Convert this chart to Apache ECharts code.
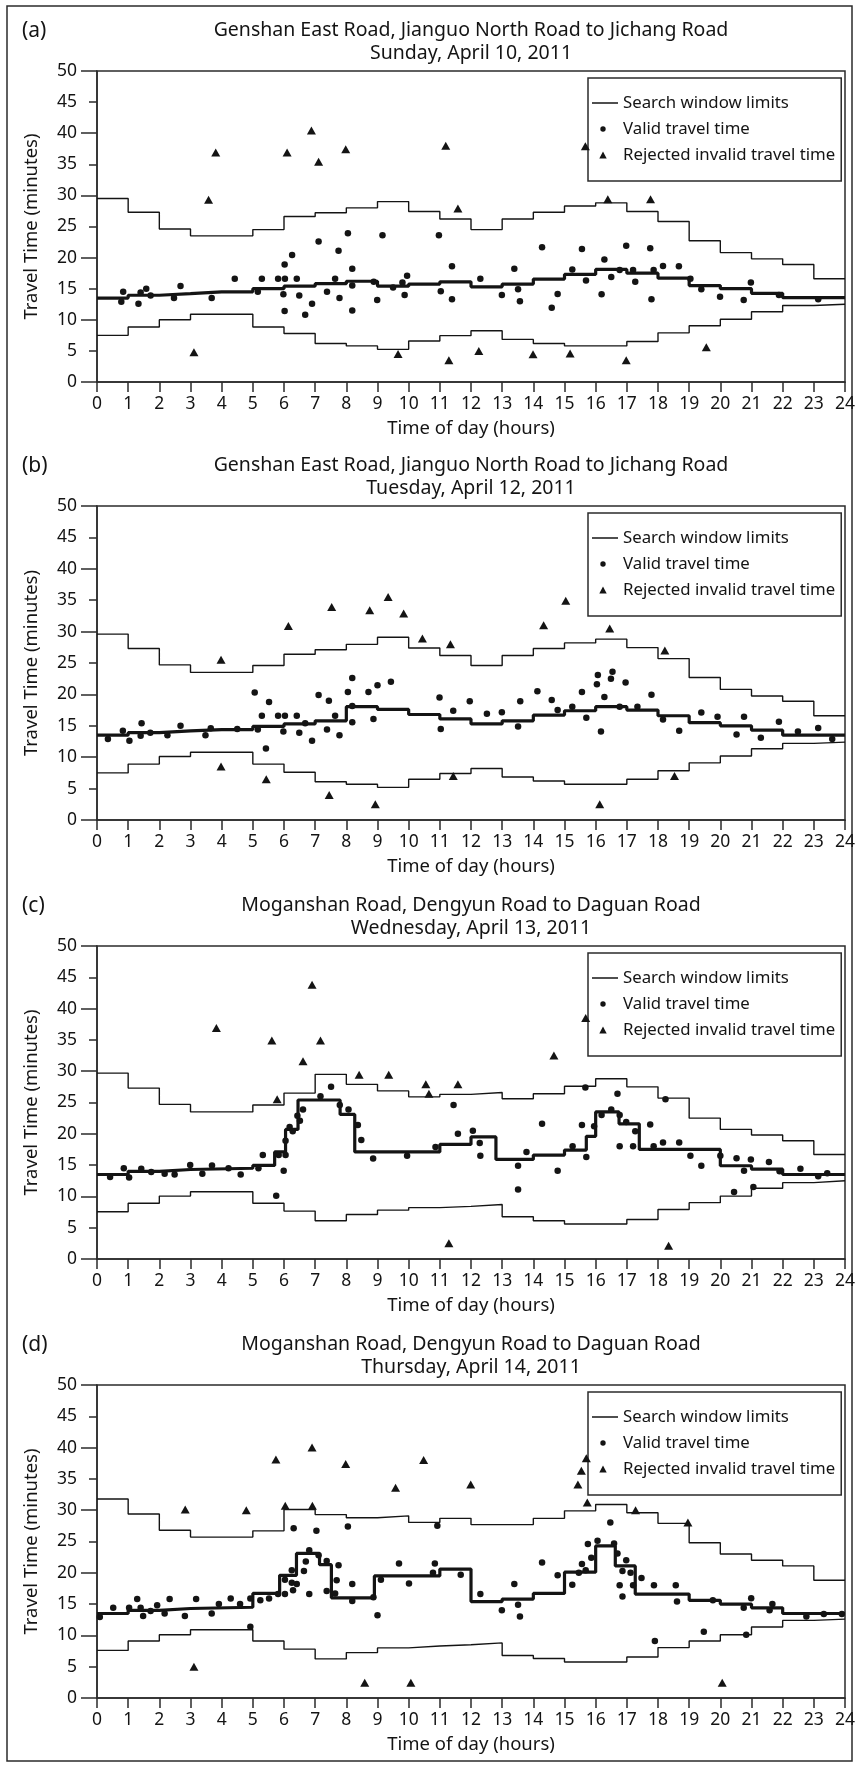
<!DOCTYPE html>
<html><head><meta charset="utf-8">
<script src="https://cdn.jsdelivr.net/npm/echarts@6/dist/echarts.min.js"></script>
<style>html,body{margin:0;padding:0;background:#fff}#c{width:859px;height:1765px}</style>
</head><body><div id="c"></div>
<script>
// ---------------- DATA ----------------
const panelLabels = ['(a)', '(b)', '(c)', '(d)'];
const titleLine1 = [
  'Genshan East Road, Jianguo North Road to Jichang Road',
  'Genshan East Road, Jianguo North Road to Jichang Road',
  'Moganshan Road, Dengyun Road to Daguan Road',
  'Moganshan Road, Dengyun Road to Daguan Road'
];
const titleLine2 = ['Sunday, April 10, 2011', 'Tuesday, April 12, 2011', 'Wednesday, April 13, 2011', 'Thursday, April 14, 2011'];
const xTickLabels = ['0','1','2','3','4','5','6','7','8','9','10','11','12','13','14','15','16','17','18','19','20','21','22','23','24'];
const yTickLabels = ['0','5','10','15','20','25','30','35','40','45','50'];
const xAxisName = 'Time of day (hours)';
const yAxisName = 'Travel Time (minutes)';
const legendNames = ['Search window limits', 'Valid travel time', 'Rejected invalid travel time'];

const windowHours = [0,1,2,3,4,5,6,7,8,9,10,11,12,13,14,15,16,17,18,19,20,21,22,23,24];

// Panel (a)
const upperA = [29.5,27.3,24.6,23.5,23.5,24.5,26.6,27.2,28.0,29.0,27.4,26.2,24.5,26.2,27.3,28.3,28.8,27.4,25.8,22.7,20.8,19.8,18.9,16.6];
const lowerA = [7.5,8.85,10.0,10.9,10.9,8.85,7.8,6.2,5.8,5.25,6.6,7.45,8.25,6.85,6.2,5.8,5.8,6.5,7.9,9.05,10.1,11.3,12.3,12.5];
const medianBreaksA = windowHours;
const medianA = [13.5,13.95,14.2,14.5,14.5,15.0,15.4,15.8,16.2,15.4,15.75,16.1,15.3,15.75,16.55,17.3,18.1,17.5,16.7,15.5,15.0,14.25,13.55,13.55];
const validA = [[0.78,12.9],[0.84,14.5],[1.33,12.6],[1.40,14.4],[1.58,15.0],[1.72,13.9],[2.47,13.5],[2.68,15.45],[3.68,13.5],[4.42,16.6],[5.16,14.5],[5.29,16.6],[5.81,16.6],[5.98,14.1],[6.02,18.9],[6.03,16.6],[6.02,11.4],[6.26,20.4],[6.41,16.6],[6.49,13.9],[6.68,10.8],[6.90,12.6],[7.11,22.6],[7.38,14.5],[7.64,16.6],[7.75,21.1],[7.78,13.5],[8.05,23.9],[8.19,18.2],[8.19,15.5],[8.19,11.5],[9.16,23.6],[8.88,16.1],[8.99,13.2],[9.50,15.2],[9.80,16.0],[9.95,17.1],[9.87,14.0],[10.97,23.6],[11.03,14.6],[11.39,18.6],[11.39,13.3],[12.30,16.6],[12.99,14.0],[13.39,18.2],[13.51,14.9],[13.57,13.0],[14.28,21.65],[14.59,11.95],[14.78,14.15],[15.25,18.1],[15.56,21.4],[15.69,16.3],[16.19,14.1],[16.28,19.7],[16.50,16.9],[16.77,18.0],[16.98,21.9],[17.20,18.0],[17.27,16.1],[17.75,21.5],[17.79,13.3],[17.86,18.0],[18.16,18.65],[18.67,18.6],[19.04,16.6],[19.39,14.9],[19.99,13.7],[20.75,13.2],[20.98,16.0],[21.88,14.0],[23.14,13.3]];
const rejectedA = [[3.11,4.8],[3.58,29.3],[3.81,36.9],[6.10,36.9],[6.88,40.45],[7.11,35.4],[7.98,37.4],[9.66,4.5],[11.19,38.0],[11.29,3.5],[11.58,27.9],[12.25,5.0],[13.99,4.45],[15.18,4.6],[15.67,37.9],[16.39,29.4],[16.98,3.5],[17.76,29.4],[19.55,5.6]];

// Panel (b)
const upperB = [29.6,27.3,24.7,23.5,23.5,24.6,26.4,27.1,27.97,29.1,27.4,26.2,24.6,26.2,27.3,28.2,28.8,27.45,25.7,22.7,20.8,19.75,18.9,16.6];
const lowerB = [7.5,8.9,10.1,10.8,10.8,8.9,7.6,6.1,5.7,5.2,6.5,7.4,8.2,6.85,6.2,5.7,5.7,6.5,7.85,9.1,10.2,11.35,12.2,12.4];
const medianBreaksB = windowHours;
const medianB = [13.5,13.9,14.2,14.4,14.4,14.9,15.3,15.8,18.05,17.6,16.8,16.1,15.3,15.8,16.7,17.4,18.05,17.5,16.6,15.5,15.0,14.3,13.5,13.5];
const validB = [[0.35,12.9],[0.83,14.2],[1.04,12.6],[1.40,13.4],[1.43,15.4],[1.71,13.9],[2.26,13.5],[2.68,15.0],[3.48,13.5],[3.65,14.6],[4.50,14.5],[5.06,20.3],[5.16,14.4],[5.29,16.6],[5.42,11.4],[5.52,18.8],[5.81,16.6],[5.98,14.1],[6.03,16.6],[6.41,16.6],[6.49,13.9],[6.68,15.4],[6.90,12.6],[7.11,19.9],[7.38,14.4],[7.44,19.0],[7.64,16.6],[7.78,13.5],[8.05,20.4],[8.19,22.6],[8.19,18.15],[8.19,15.55],[8.71,20.4],[8.87,16.1],[9.00,21.45],[9.43,22.0],[10.99,19.5],[11.03,14.5],[11.43,17.4],[11.96,18.9],[12.51,16.9],[12.99,17.15],[13.51,14.9],[13.58,18.9],[14.13,20.5],[14.59,19.1],[14.78,17.5],[15.25,18.05],[15.56,20.4],[15.70,16.3],[16.07,23.1],[16.04,21.6],[16.17,14.1],[16.28,19.6],[16.49,22.5],[16.54,23.6],[16.77,18.05],[16.96,21.9],[17.34,18.05],[17.79,19.95],[18.16,16.0],[18.68,14.2],[19.39,17.1],[19.91,16.45],[20.52,13.6],[20.76,16.45],[21.30,13.1],[21.88,15.65],[22.49,14.1],[23.14,14.65],[23.59,12.9]];
const rejectedB = [[3.98,25.5],[3.98,8.5],[5.43,6.5],[6.14,30.9],[7.53,33.9],[7.45,4.0],[8.75,33.4],[9.34,35.5],[9.84,32.9],[10.44,28.9],[11.34,28.0],[11.43,7.0],[8.93,2.5],[14.33,31.0],[15.04,34.9],[16.13,2.5],[16.45,30.5],[18.22,27.0],[18.53,7.0]];

// Panel (c)
const upperC = [29.7,27.3,24.7,23.5,23.5,24.6,26.5,29.5,27.9,26.85,25.9,26.3,26.6,25.6,26.4,27.6,28.8,27.5,25.7,22.5,20.7,19.8,18.9,16.7];
const lowerC = [7.55,8.9,10.05,10.75,10.75,8.9,7.65,6.1,7.1,7.8,8.2,8.4,8.7,6.75,6.1,5.6,5.6,6.3,7.9,9.0,10.05,11.3,12.2,12.5];
const medianBreaksC = [0,1,2,3,5,5.7,6.05,6.45,7.8,8.27,11,12,12.8,14,15,15.7,16,16.75,17.4,20,21,22,24];
const medianC = [13.5,14.0,14.3,14.5,14.95,17.1,20.7,25.4,23.1,17.1,18.3,19.5,15.9,16.6,17.4,19.6,23.5,21.6,17.5,14.9,14.35,13.5];
const validC = [[0.42,13.1],[0.86,14.5],[1.03,13.0],[1.42,14.4],[1.74,13.9],[2.17,13.6],[2.49,13.5],[2.99,15.0],[3.38,13.6],[3.69,14.95],[4.22,14.5],[4.61,13.5],[5.18,14.5],[5.32,16.6],[5.75,10.1],[5.83,16.6],[5.99,14.1],[6.05,18.9],[6.05,16.6],[6.18,21.1],[6.28,20.4],[6.43,22.9],[6.51,22.1],[6.61,23.9],[7.17,26.0],[7.51,27.5],[7.79,24.6],[8.07,23.9],[8.37,21.4],[8.48,19.0],[8.86,16.05],[9.95,16.5],[10.86,17.9],[11.44,24.6],[11.58,20.0],[12.06,20.5],[12.28,18.55],[12.30,16.5],[13.51,14.9],[13.51,11.1],[13.78,17.1],[14.28,21.6],[14.78,14.1],[15.26,18.0],[15.56,21.4],[15.70,16.3],[15.67,27.4],[15.95,21.2],[16.19,23.0],[16.50,23.9],[16.70,26.4],[16.77,23.0],[16.77,18.0],[16.98,21.9],[17.20,18.0],[17.27,20.4],[17.75,21.5],[17.86,18.0],[18.16,18.6],[18.24,25.5],[18.68,18.6],[19.04,16.5],[19.39,14.9],[20.00,16.5],[20.52,16.1],[20.76,14.1],[20.44,10.7],[20.98,15.9],[21.06,11.5],[21.56,15.5],[21.90,14.0],[22.57,14.4],[23.14,13.2],[23.43,13.7]];
const rejectedC = [[3.83,36.9],[5.61,34.9],[5.78,25.5],[6.61,31.6],[6.90,43.8],[7.17,34.9],[8.41,29.45],[9.36,29.45],[10.55,27.9],[10.65,26.4],[11.58,27.9],[11.29,2.5],[14.66,32.5],[15.68,38.5],[18.34,2.1]];

// Panel (d)
const upperD = [31.8,29.4,26.8,25.7,25.7,26.7,30.1,29.3,28.8,29.1,28.05,28.7,27.7,27.7,28.7,29.9,30.9,29.6,27.9,24.8,23.0,22.0,21.1,18.8];
const lowerD = [7.6,9.1,10.1,10.9,10.9,9.1,7.8,6.25,7.25,8.0,8.3,8.5,8.8,6.8,6.3,5.75,5.75,6.55,8.05,9.1,10.1,11.35,12.4,12.6];
const medianBreaksD = [0,1,2,3,5,5.86,6.4,7.14,7.52,8.9,11,12,13,14,15,16,16.63,17.27,19,20,21,22,24];
const medianD = [13.5,14.0,14.3,14.5,16.7,19.6,23.1,21.3,16.0,19.5,20.6,15.4,15.8,16.7,20.1,24.3,21.1,16.6,15.6,15.0,14.4,13.5];
const validD = [[0.09,12.95],[0.52,14.4],[1.03,14.4],[1.29,15.8],[1.40,14.4],[1.48,13.1],[1.72,13.9],[1.93,14.8],[2.17,13.5],[2.33,15.8],[2.82,13.1],[3.18,15.8],[3.68,13.5],[3.91,15.0],[4.29,15.9],[4.59,15.0],[4.92,15.9],[4.92,11.4],[5.24,15.6],[5.52,15.9],[5.81,16.6],[6.03,18.9],[6.03,16.6],[6.25,20.4],[6.25,18.4],[6.31,27.1],[6.29,17.2],[6.41,18.2],[6.64,20.3],[6.70,21.8],[6.81,23.6],[6.81,16.6],[7.04,26.7],[7.11,22.8],[7.37,21.9],[7.37,17.1],[7.69,18.8],[7.64,16.7],[7.75,21.2],[8.05,27.4],[8.19,18.2],[8.19,15.5],[8.87,16.1],[9.00,13.2],[9.11,18.9],[9.69,21.5],[10.01,18.3],[10.78,20.0],[10.84,21.5],[10.92,27.5],[11.67,19.7],[12.30,16.6],[12.99,14.0],[13.39,18.2],[13.51,14.9],[13.57,13.0],[14.28,21.65],[14.78,19.6],[15.25,18.1],[15.46,20.0],[15.56,21.4],[15.68,20.4],[15.75,24.6],[15.86,22.4],[16.06,25.1],[16.47,28.05],[16.59,24.7],[16.70,23.1],[16.77,18.0],[16.86,20.3],[16.86,16.2],[16.98,22.0],[17.12,20.0],[17.20,18.0],[17.47,19.15],[17.87,18.0],[17.90,9.1],[18.57,18.0],[18.61,15.4],[19.47,10.6],[19.76,15.6],[20.75,14.4],[20.83,10.1],[20.99,15.95],[21.58,14.0],[21.67,15.0],[22.76,13.0],[23.32,13.4],[23.90,13.4]];
const rejectedD = [[2.83,30.1],[3.11,5.0],[4.79,30.0],[5.74,38.1],[6.04,30.7],[6.90,40.0],[6.91,30.7],[7.98,37.4],[8.59,2.45],[9.58,33.6],[10.07,2.45],[10.48,38.0],[11.99,34.1],[15.43,34.1],[15.54,36.3],[15.70,38.3],[15.73,31.25],[17.28,30.0],[18.96,28.05],[20.06,2.45]];

// ---------------- LAYOUT / STYLE ----------------
const FONT = '"Noto Sans", "Open Sans", sans-serif';
const INK = '#141414';
const AX = '#2b2b2b';
const gridTops = [71, 506, 946, 1385];
const gridHeights = [311, 314, 313, 313];
const GRID_LEFT = 97, GRID_W = 748;

// legend icons: 26x7 boxes (move-to corners fix the box), mark drawn inside
const ICON_LINE = 'path://M0 2.75H26V4.25H0Z M0 0 M26 7';
const ICON_DOT = 'path://M0 0 M26 7 M8.3 3.5A2.7 2.7 0 1 0 13.7 3.5A2.7 2.7 0 1 0 8.3 3.5Z';
const ICON_TRI = 'path://M0 0 M26 7 M11 0L14.7 7L7.3 7Z';

const panels = [
  {upper: upperA, lower: lowerA, mb: medianBreaksA, med: medianA, valid: validA, rej: rejectedA},
  {upper: upperB, lower: lowerB, mb: medianBreaksB, med: medianB, valid: validB, rej: rejectedB},
  {upper: upperC, lower: lowerC, mb: medianBreaksC, med: medianC, valid: validC, rej: rejectedC},
  {upper: upperD, lower: lowerD, mb: medianBreaksD, med: medianD, valid: validD, rej: rejectedD}
];

function stepPts(breaks, vals) {
  const pts = [];
  for (let k = 0; k < vals.length; k++) {
    pts.push([breaks[k], vals[k]]);
    pts.push([breaks[k + 1], vals[k]]);
  }
  return pts;
}

const grids = [], xAxes = [], yAxes = [], series = [], legends = [], graphics = [];

graphics.push({type: 'rect', shape: {x: 7, y: 6, width: 845, height: 1755}, style: {fill: 'none', stroke: AX, lineWidth: 1.5}, z: 0});

panels.forEach((p, i) => {
  const T = gridTops[i], H = gridHeights[i];
  grids.push({left: GRID_LEFT, width: GRID_W, top: T, height: H, show: true, borderColor: AX, borderWidth: 1.5, backgroundColor: 'transparent'});
  xAxes.push({
    gridIndex: i, type: 'value', min: 0, max: 24, interval: 1,
    axisLine: {show: true, onZero: false, lineStyle: {color: AX, width: 1.5}},
    axisTick: {show: true, length: 10, lineStyle: {color: AX, width: 1.5}},
    axisLabel: {margin: 13, fontSize: 17.5, color: INK, fontFamily: FONT, formatter: v => xTickLabels[Math.round(v)]},
    splitLine: {show: false},
    name: xAxisName, nameLocation: 'middle', nameGap: 37,
    nameTextStyle: {fontSize: 18.5, color: INK, fontFamily: FONT}
  });
  yAxes.push({
    gridIndex: i, type: 'value', min: 0, max: 50, interval: 5, position: 'left',
    axisLine: {show: true, onZero: false, lineStyle: {color: AX, width: 1.5}},
    axisTick: {show: true, length: 8, lineStyle: {color: AX, width: 1.5}},
    axisLabel: {margin: 20, fontSize: 17.5, color: INK, fontFamily: FONT, formatter: v => yTickLabels[Math.round(v / 5)]},
    splitLine: {show: false},
    name: yAxisName, nameLocation: 'middle', nameGap: 56, nameRotate: 90,
    nameTextStyle: {fontSize: 18.5, color: INK, fontFamily: FONT}
  });
  yAxes.push({
    gridIndex: i, type: 'value', min: 0, max: 50, interval: 10, position: 'left', offset: 0,
    axisLine: {show: false},
    axisTick: {show: true, length: 16, lineStyle: {color: AX, width: 1.5}},
    axisLabel: {show: false}, splitLine: {show: false}
  });
  const yi = 2 * i;
  series.push({name: legendNames[0], type: 'line', xAxisIndex: i, yAxisIndex: yi, data: stepPts(windowHours, p.upper), symbol: 'none', color: INK, lineStyle: {color: INK, width: 1.4}, silent: true, z: 2, animation: false});
  series.push({name: legendNames[0], type: 'line', xAxisIndex: i, yAxisIndex: yi, data: stepPts(windowHours, p.lower), symbol: 'none', color: INK, lineStyle: {color: INK, width: 1.4}, silent: true, z: 2, animation: false});
  series.push({name: 'median', type: 'line', xAxisIndex: i, yAxisIndex: yi, data: stepPts(p.mb, p.med), symbol: 'none', color: INK, lineStyle: {color: INK, width: 3.2}, silent: true, z: 3, animation: false});
  series.push({name: legendNames[1], type: 'scatter', xAxisIndex: i, yAxisIndex: yi, data: p.valid, symbol: 'circle', symbolSize: 6.5, itemStyle: {color: INK, opacity: 1}, z: 4, animation: false});
  series.push({name: legendNames[2], type: 'scatter', xAxisIndex: i, yAxisIndex: yi, data: p.rej, symbol: 'triangle', symbolSize: [9, 8], itemStyle: {color: INK, opacity: 1}, z: 4, animation: false});

  legends.push({
    orient: 'vertical', left: 588, top: T + 7,
    data: [
      {name: legendNames[0], icon: ICON_LINE},
      {name: legendNames[1], icon: ICON_DOT},
      {name: legendNames[2], icon: ICON_TRI}
    ],
    itemWidth: 26, itemHeight: 7, itemGap: 8,
    padding: [16, 6, 17, 4],
    borderColor: AX, borderWidth: 1.5, backgroundColor: 'transparent',
    selectedMode: false,
    textStyle: {fontSize: 16.8, color: INK, fontFamily: FONT, lineHeight: 18}
  });

  const cx = GRID_LEFT + GRID_W / 2;
  graphics.push({type: 'text', x: cx, y: T - 41, style: {text: titleLine1[i], font: '19.5px ' + FONT, fill: INK, align: 'center', verticalAlign: 'middle', textAlign: 'center', textVerticalAlign: 'middle'}});
  graphics.push({type: 'text', x: cx, y: T - 18, style: {text: titleLine2[i], font: '19.5px ' + FONT, fill: INK, align: 'center', verticalAlign: 'middle', textAlign: 'center', textVerticalAlign: 'middle'}});
  graphics.push({type: 'text', x: 22, y: T - 40, style: {text: panelLabels[i], font: '21px ' + FONT, fill: INK, align: 'left', verticalAlign: 'middle', textAlign: 'left', textVerticalAlign: 'middle'}});
});

const chart = echarts.init(document.getElementById('c'), null, {renderer: 'canvas'});
chart.setOption({
  animation: false,
  backgroundColor: '#ffffff',
  grid: grids, xAxis: xAxes, yAxis: yAxes, series: series, legend: legends,
  graphic: {elements: graphics}
});
</script></body></html>
